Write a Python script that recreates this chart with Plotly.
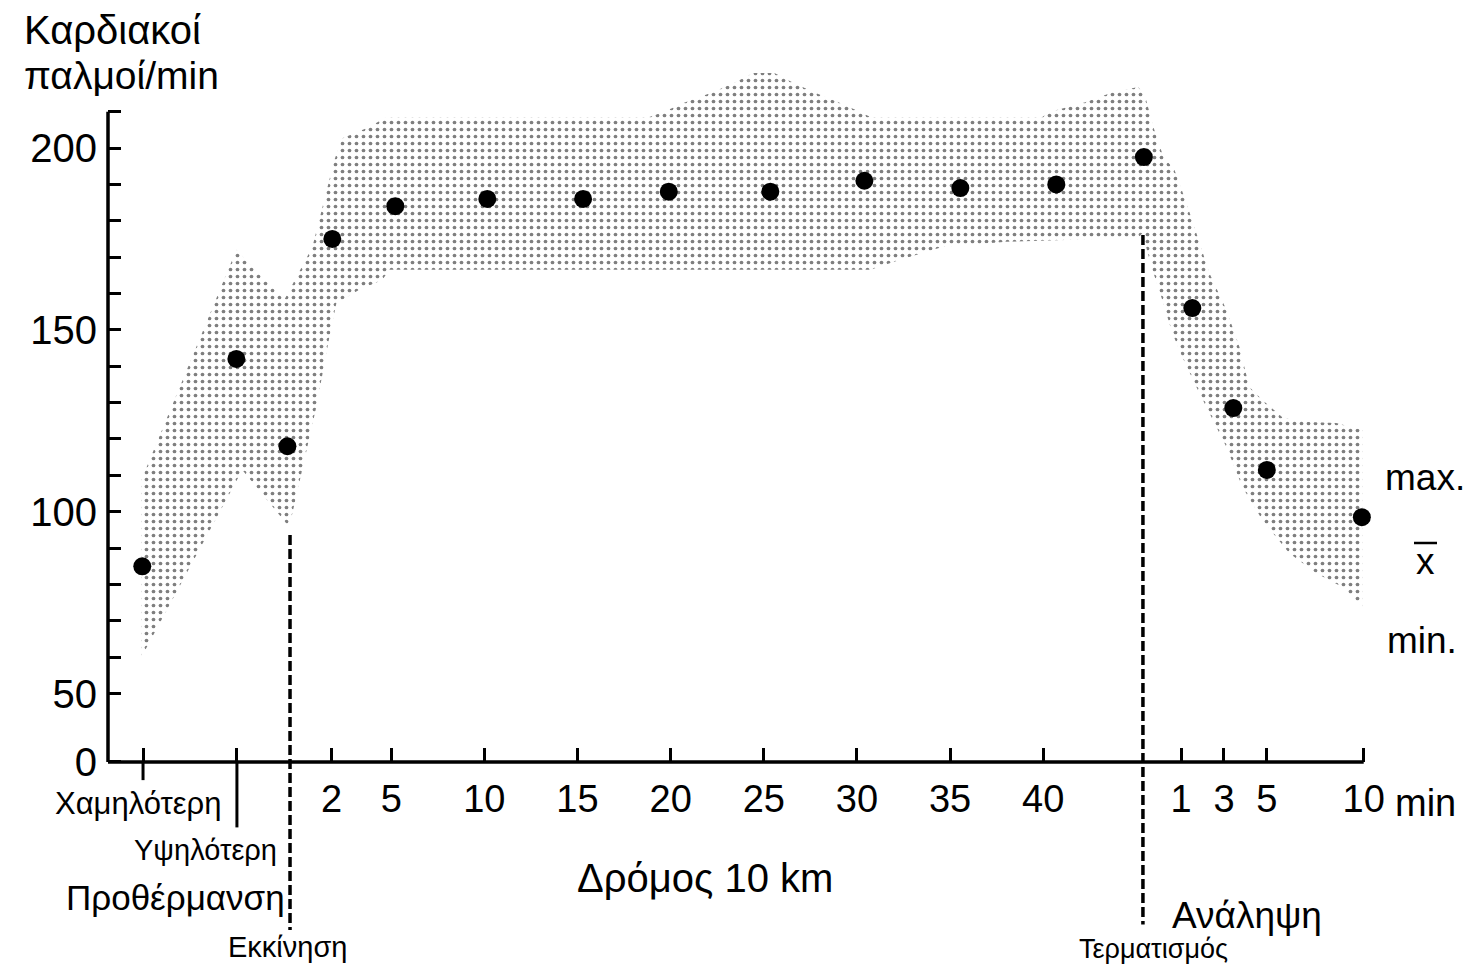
import plotly.graph_objects as go

# ---------------- data ----------------
# Horizontal axis is a "phase" axis: warm-up (lowest / highest), 10 km run
# (minutes 2..40), finish, recovery (1, 3, 5, 10 min).
mean_x = [-8.36, -3.31, -0.57, 1.84, 5.22, 10.16, 15.3, 19.9, 25.35,
          30.4, 35.55, 40.7, 45.4, 48.0, 50.2, 52.0, 57.1]
mean_bpm = [85, 142, 118, 175, 184, 186, 186, 188, 188,
            191, 189, 190, 197.5, 156, 128.5, 111.5, 98.5]

# upper limit (max) of the shaded range, left to right
band_upper_x = [-8.41, -3.31, -0.74, 0.77, 1.95, 2.38, 3.83, 4.74, 18.86, 19.61,
                20.79, 22.29, 23.47, 24.44, 25.57, 26.53, 27.66, 29.0, 30.18,
                30.72, 39.95, 40.33, 42.26, 43.76, 45.1, 45.48, 45.91, 46.45,
                47.04, 47.63, 48.16, 48.92, 49.83, 50.53, 51.06, 51.76, 52.83,
                54.28, 55.73, 57.13]
band_upper_bpm = [108.7, 172.0, 158.2, 172.8, 196.7, 202.7, 205.8, 208.5, 208.5, 209.9,
                  212.6, 215.4, 218.1, 220.6, 220.6, 218.1, 215.4, 212.6, 209.9,
                  208.5, 208.5, 209.9, 212.6, 215.4, 216.8, 214.0, 205.8, 197.5,
                  194.0, 185.7, 177.5, 165.6, 155.5, 145.3, 134.3, 130.7, 126.0,
                  124.7, 124.4, 122.5]
# lower limit (min) of the shaded range, left to right
band_lower_x = [-8.41, -2.99, -0.47, 0.98, 1.68, 2.06, 3.29, 4.52, 4.9, 30.72,
                32.28, 34.58, 38.02, 45.1, 45.32, 45.86, 46.39, 46.93, 47.47,
                48.22, 48.92, 49.83, 50.69, 51.76, 53.21, 54.66, 56.05, 57.13]
band_lower_bpm = [60.0, 111.5, 95.8, 128.8, 148.0, 157.4, 161.0, 163.7, 166.5, 166.5,
                  169.2, 172.8, 174.2, 175.3, 176.6, 166.5, 158.2, 149.1, 142.5,
                  134.3, 127.1, 117.8, 106.8, 97.7, 88.6, 83.1, 79.3, 73.8]

warm_tick_pos = [-8.32, -3.28]
run_tick_pos = [1.8, 5, 10, 15, 20, 25, 30, 35, 40]
run_tick_labels = ["2", "5", "10", "15", "20", "25", "30", "35", "40"]
rec_tick_pos = [47.4, 49.7, 52.0, 57.2]
rec_tick_labels = ["1", "3", "5", "10"]
start_x = -0.43      # Εκκίνηση
finish_x = 45.35     # Τερματισμός

y_minor_vals = list(range(50, 211, 10))
y_label_map = {50: "50", 100: "100", 150: "150", 200: "200"}
AXIS_ZERO = 31.2     # where the (broken) axis shows "0"

# ---------------- layout constants ----------------
W, H = 1474, 968
ML = 108
X_MIN, X_MAX = -10.2, 63.12
Y_MIN, Y_MAX = -25.46, 240.7
FONT = "Liberation Sans"


def at(xp, yp):
    """pixel position -> paper coordinates"""
    return (xp - ML) / (W - ML), (H - yp) / H


fig = go.Figure()

poly_x = band_upper_x + band_lower_x[::-1] + [band_upper_x[0]]
poly_y = band_upper_bpm + band_lower_bpm[::-1] + [band_upper_bpm[0]]
fig.add_trace(go.Scatter(
    x=poly_x, y=poly_y, mode="lines", fill="toself",
    line=dict(width=0, color="rgba(0,0,0,0)"),
    fillcolor="white",
    fillpattern=dict(shape=".", fgcolor="black", bgcolor="white",
                     size=7, solidity=0.22),
    hoverinfo="skip"))

fig.add_trace(go.Scatter(
    x=mean_x, y=mean_bpm, mode="markers",
    marker=dict(size=18, color="black"), cliponaxis=False))

tickvals = warm_tick_pos + run_tick_pos + rec_tick_pos
ticktext = [""] * len(warm_tick_pos) + run_tick_labels + rec_tick_labels

fig.update_layout(
    width=W, height=H,
    margin=dict(l=ML, r=0, t=0, b=0),
    paper_bgcolor="white", plot_bgcolor="white",
    showlegend=False,
    font=dict(family=FONT, color="black"),
    xaxis=dict(range=[X_MIN, X_MAX], anchor="free",
               position=(AXIS_ZERO - Y_MIN) / (Y_MAX - Y_MIN),
               tickmode="array", tickvals=tickvals, ticktext=ticktext,
               ticks="inside", ticklen=14, tickwidth=3, tickcolor="black",
               showline=False, showgrid=False, zeroline=False,
               tickfont=dict(size=38, family=FONT), ticklabelstandoff=11),
    yaxis=dict(range=[Y_MIN, Y_MAX],
               tickmode="array",
               tickvals=[AXIS_ZERO] + y_minor_vals,
               ticktext=["0"] + [y_label_map.get(v, "") for v in y_minor_vals],
               ticks="inside", ticklen=13, tickwidth=3, tickcolor="black",
               showline=False, showgrid=False, zeroline=False,
               tickfont=dict(size=40, family=FONT), ticklabelstandoff=10),
)

shapes = [
    # y axis line
    dict(type="line", xref="paper", yref="y", x0=0, x1=0, y0=AXIS_ZERO, y1=210,
         line=dict(color="black", width=3.5)),
    # x axis line
    dict(type="line", xref="x", yref="y", x0=X_MIN, x1=rec_tick_pos[-1],
         y0=AXIS_ZERO, y1=AXIS_ZERO, line=dict(color="black", width=3.5)),
    # warm-up tick extensions below the axis
    dict(type="line", xref="x", yref="y", x0=warm_tick_pos[0], x1=warm_tick_pos[0],
         y0=AXIS_ZERO, y1=AXIS_ZERO - 5, line=dict(color="black", width=3)),
    dict(type="line", xref="x", yref="y", x0=warm_tick_pos[1], x1=warm_tick_pos[1],
         y0=AXIS_ZERO, y1=AXIS_ZERO - 18, line=dict(color="black", width=3)),
    # start / finish dashed lines
    dict(type="line", xref="x", yref="y", x0=start_x, x1=start_x, y0=93.6, y1=-15,
         line=dict(color="black", width=3.5, dash="10px,4px")),
    dict(type="line", xref="x", yref="y", x0=finish_x, x1=finish_x, y0=176.1, y1=-13.5,
         line=dict(color="black", width=3.5, dash="10px,4px")),
]
# overline of the x-bar symbol
bx0, by = at(1414, 543)
bx1, _ = at(1437, 543)
shapes.append(dict(type="line", xref="paper", yref="paper", x0=bx0, x1=bx1, y0=by, y1=by,
                   line=dict(color="black", width=2.5)))
fig.update_layout(shapes=shapes)

labels = [
    ("Καρδιακοί", 22, 30, 40, "left"),
    ("παλμοί/min", 22, 76, 39, "left"),
    ("Χαμηλότερη", 138, 803, 31, "center"),
    ("Υψηλότερη", 205, 850, 29, "center"),
    ("Προθέρμανση", 287, 897, 35, "right"),
    ("Εκκίνηση", 287, 947, 29, "center"),
    ("Δρόμος 10 km", 705, 878, 40, "center"),
    ("Τερματισμός", 1153, 949, 27, "center"),
    ("Ανάληψη", 1247, 915, 37, "center"),
    ("min", 1393, 803, 38, "left"),
    ("max.", 1383, 477, 37, "left"),
    ("x", 1425, 561, 37, "center"),
    ("min.", 1385, 640, 37, "left"),
]
for text, xp, yp, size, anchor in labels:
    px_, py_ = at(xp, yp)
    fig.add_annotation(text=text, xref="paper", yref="paper", x=px_, y=py_,
                       xanchor=anchor, yanchor="middle", showarrow=False,
                       font=dict(size=size, family=FONT, color="black"))

fig.write_html("out.html")
